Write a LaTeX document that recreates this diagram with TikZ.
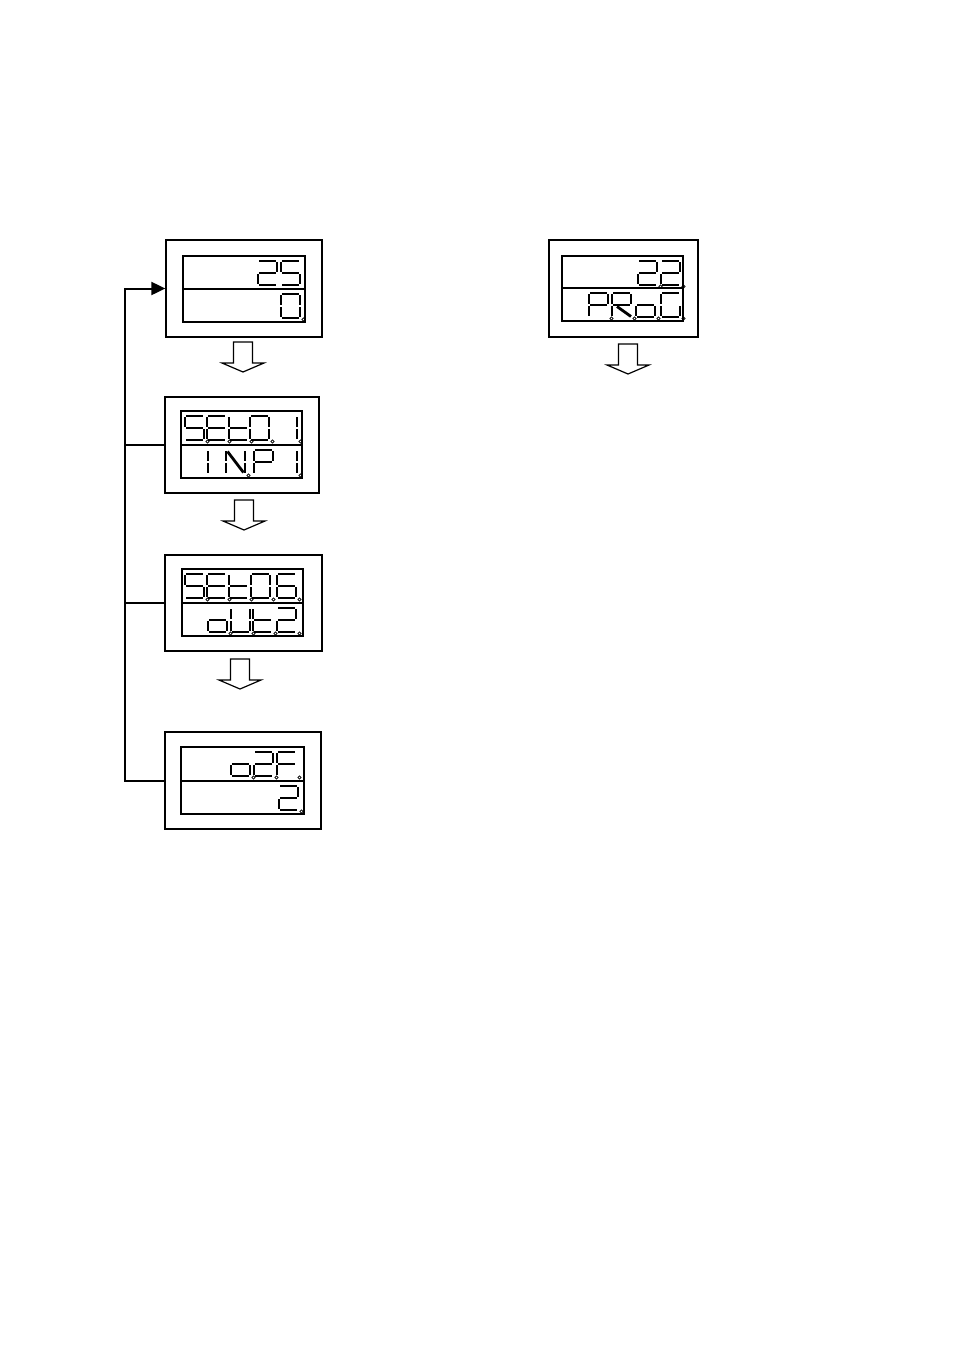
\documentclass[tikz,border=0pt]{standalone}
\usetikzlibrary{arrows.meta}
\tikzset{
  x=1pt,y=-1pt,
  frame/.style={draw,line width=1.3pt,minimum width=#1,inner sep=0pt},
  disp/.style={draw,line width=1.3pt},
  segdiag/.style={line width=2.8pt,line cap=butt},
  dp/.style={line width=0.6pt},
  conn/.style={line width=2pt},
  harrow/.pic={\draw[line width=1.2pt,line join=miter] (-9.5,0) -- (9.5,0) -- (9.5,21) -- (21,21) -- (0,30) -- (-21,21) -- (-9.5,21) -- cycle;}
}
\def\sga{\fill (1,-1.4) rectangle (18,1.4);}
\def\sgb{\fill (17.6,1) rectangle (20.4,11.2);}
\def\sgc{\fill (17.6,12.8) rectangle (20.4,23);}
\def\sgd{\fill (1,22.6) rectangle (18,25.4);}
\def\sge{\fill (-1.4,12.8) rectangle (1.4,23);}
\def\sgf{\fill (-1.4,1) rectangle (1.4,11.2);}
\def\sgg{\fill (1,10.6) rectangle (18,13.4);}
\def\sgr{\draw[segdiag] (5,13.5)--(19,23.5);}
\def\sgn{\draw[segdiag] (1.5,1.5)--(17.5,22.5);}
\def\sgp{\draw[dp] (22.5,25.5) circle[radius=1.6];}
\newcommand\chr[3]{\begin{scope}[shift={(#1,#2)}]\foreach \s in {#3}{\csname sg\s\endcsname}\end{scope}}
\begin{document}
\begin{tikzpicture}
\useasboundingbox[fill=white] (0,0) rectangle (955,1350);
% outer frames
\node[frame=156pt,minimum height=97pt] (b1) at (244,288.5) {};
\node[frame=154pt,minimum height=96pt] (b2) at (242,445) {};
\node[frame=157pt,minimum height=96pt] (b3) at (243.5,603) {};
\node[frame=156pt,minimum height=97pt] (b4) at (243,780.5) {};
\node[frame=149pt,minimum height=97pt,line width=2.6pt] (b5) at (623.5,288.5) {};
% inner displays
\draw[disp] (183,256) rectangle (305,322) (183,289) -- (305,289);
\draw[disp] (181,411) rectangle (302,478) (181,445) -- (302,445);
\draw[disp] (182,569) rectangle (303,636) (182,603) -- (303,603);
\draw[disp] (181,747) rectangle (304,814) (181,781) -- (304,781);
\draw[disp] (562,256) rectangle (683,321) (562,288) -- (683,288);
% display 1: 25 / 0
\chr{258}{261}{a,b,g,e,d}
\chr{281}{261}{a,f,g,c,d}
\chr{281}{294}{a,b,c,d,e,f,p}
% display 2: SEt.0.1 / 1NP1
\chr{185}{416}{a,f,g,c,d,p}
\chr{207}{416}{a,f,g,e,d,p}
\chr{229}{416}{f,g,e,d,p}
\chr{250}{416}{a,b,c,d,e,f,p}
\chr{278}{416}{b,c,p}
\chr{189}{450}{b,c}
\chr{226}{450}{f,e,b,c,n,p}
\chr{254}{450}{a,b,f,g,e}
\chr{278}{450}{b,c,p}
% display 3: SEt06 / oUt2
\chr{185}{574}{a,f,g,c,d,p}
\chr{207}{574}{a,f,g,e,d,p}
\chr{229}{574}{f,g,e,d,p}
\chr{251}{574}{a,b,c,d,e,f,p}
\chr{277}{574}{a,f,g,e,d,c,p}
\chr{208}{608}{g,e,d,c,p}
\chr{231}{608}{f,e,d,c,b,p}
\chr{253}{608}{f,g,e,d,p}
\chr{277}{608}{a,b,g,e,d,p}
% display 4: o2F / 2
\chr{231}{752}{g,e,d,c,p}
\chr{254}{752}{a,b,g,e,d,p}
\chr{277}{752}{a,f,g,e,p}
\chr{279}{786}{a,b,g,e,d,p}
% display 5: 22 / PRoG
\chr{638}{261}{a,b,g,e,d,p}
\chr{661}{261}{a,b,g,e,d,p}
\chr{589}{293}{a,b,f,g,e,p}
\chr{612}{293}{a,b,f,g,e,r,p}
\chr{636}{293}{g,e,d,c,p}
\chr{661}{293}{a,f,e,d,c,p}
% hollow arrows
\pic at (243,342) {harrow};
\pic at (244,500) {harrow};
\pic at (240,659) {harrow};
\pic at (628,344) {harrow};
% return rail
\coordinate (rail) at (125,781);
\draw[conn,-{Triangle[length=14pt,width=13pt]}] (b4.west) -- (b4.west -| rail) |- (b1.west);
\draw[conn] (b2.west) -- (b2.west -| rail);
\draw[conn] (b3.west) -- (b3.west -| rail);
\end{tikzpicture}
\end{document}
